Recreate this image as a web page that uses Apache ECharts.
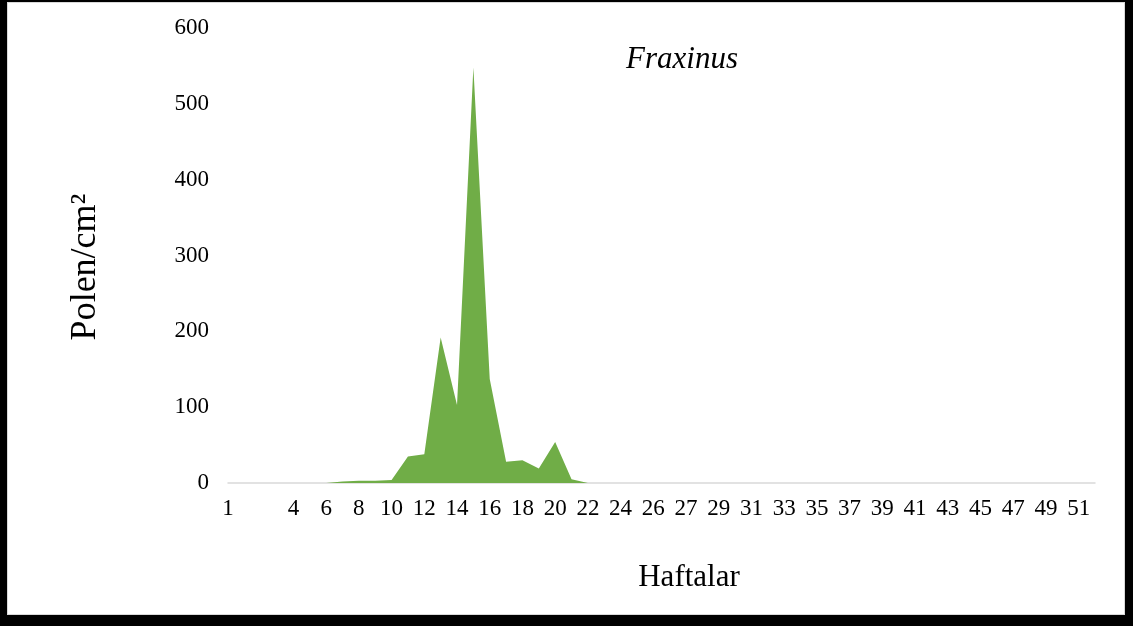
<!DOCTYPE html>
<html>
<head>
<meta charset="utf-8">
<script src="https://cdn.jsdelivr.net/npm/echarts@6/dist/echarts.min.js"></script>
<style>
  html, body { margin: 0; padding: 0; background: #000; }
  #frame { position: absolute; left: 7px; top: 2px; width: 1116px; height: 611px; background: #fff; border: 1px solid #d9d9d9; }
  #chart { position: absolute; left: 0; top: 0; width: 1133px; height: 626px; }
</style>
</head>
<body>
<div id="frame"></div>
<div id="chart"></div>
<script>
// hafta etiketleri (Excel her ikinci etiketi gösteriyor)
const weeks = ['1', '2', '', '3', '4', '5', '6', '7', '8', '9', '10', '11', '12', '13', '14', '15',
  '16', '17', '18', '19', '20', '21', '22', '23', '24', '25', '26', '', '27', '28', '29', '30',
  '31', '32', '33', '34', '35', '36', '37', '38', '39', '40', '41', '42', '43', '44', '45', '46',
  '47', '48', '49', '50', '51', '52']
// Fraxinus polen/cm2
const fraxinus = [0, 0, 0, 0, 0, 0, 0, 2, 3, 3, 4, 35, 38, 192, 103, 548, 137, 28, 30, 19,
  54, 5, 0, 0, 0, 0, 0, 0, 0, 0, 0, 0, 0, 0, 0, 0, 0, 0, 0, 0, 0, 0, 0, 0, 0, 0, 0, 0, 0, 0,
  0, 0, 0, 0]
const yTicks = { min: 0, max: 600, step: 100 }

const serif = '"Liberation Serif", "Times New Roman", serif'
var chart = echarts.init(document.getElementById('chart'), null, { renderer: 'canvas' })
var option = {
  backgroundColor: 'transparent',
  animation: false,
  grid: { left: 228, right: 38, top: 28, bottom: 143, containLabel: false, outerBoundsMode: 'none' },
  xAxis: {
    type: 'category',
    data: weeks,
    boundaryGap: false,
    axisLine: { lineStyle: { color: '#d9d9d9', width: 1.5 } },
    axisTick: { show: false },
    axisLabel: { interval: 1, margin: 14, color: '#000', fontFamily: serif, fontSize: 23 },
    splitLine: { show: false }
  },
  yAxis: {
    type: 'value',
    min: yTicks.min,
    max: yTicks.max,
    interval: yTicks.step,
    axisLine: { show: false },
    axisTick: { show: false },
    splitLine: { show: false },
    axisLabel: { margin: 19, color: '#000', fontFamily: serif, fontSize: 23 }
  },
  series: [{
    type: 'line',
    data: fraxinus,
    symbol: 'none',
    lineStyle: { width: 0 },
    areaStyle: { color: '#70ad47', opacity: 1 }
  }],
  graphic: [
    {
      type: 'text', x: 682, y: 60,
      style: { text: 'Fraxinus', textAlign: 'center', textVerticalAlign: 'middle', fill: '#000',
        font: 'italic 31px ' + serif }
    },
    {
      type: 'text', x: 689, y: 578,
      style: { text: 'Haftalar', textAlign: 'center', textVerticalAlign: 'middle', fill: '#000',
        font: '31px ' + serif }
    },
    {
      type: 'text', x: 86, y: 267, rotation: Math.PI / 2,
      style: { text: 'Polen/cm²', textAlign: 'center', textVerticalAlign: 'middle', fill: '#000',
        font: '36px ' + serif }
    }
  ]
}
chart.setOption(option)
</script>
</body>
</html>
